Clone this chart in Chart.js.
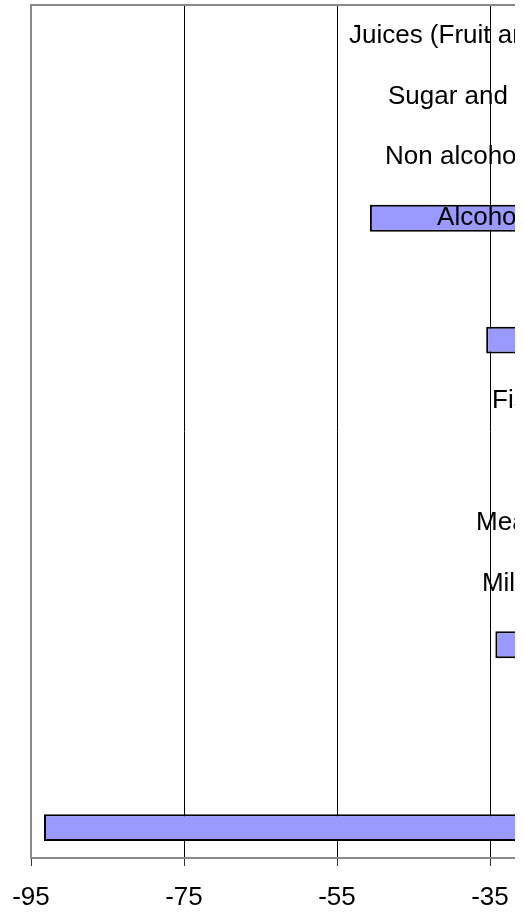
<!DOCTYPE html>
<html>
<head>
<meta charset="utf-8">
<script src="https://cdn.jsdelivr.net/npm/chart.js@4.4.0/dist/chart.umd.min.js"></script>
<style>
  html, body { margin: 0; padding: 0; background: #fff; }
  #wrap { width: 515px; height: 918px; overflow: hidden; }
  #chart { display: block; }
</style>
</head>
<body>
<div id="wrap"><canvas id="chart" width="830" height="929"></canvas></div>
<script>
// categories, top to bottom
const categories = [
  'Juices (Fruit and vegetable)',
  'Sugar and confectionery',
  'Non alcoholic beverages',
  'Alcoholic beverages',
  'Tobacco',
  'Vegetables',
  'Fish & Seafood',
  'Eggs',
  'Meat and poultry',
  'Milk and cheese',
  'Fruit',
  'Oils and fats',
  'Cereals',
  'Potatoes'
];
// change per category (only the four leftmost bars can be read, the rest are guessed)
const changes = [-14, -9, -18, -50.7, -6, -35.5, -21, -12, -17, -24, -34.3, -7, -19, -93.3];
const xMin = -95;
const xMax = 5;
const xStep = 20;
const labelAnchor = -11.5; // category labels are right-aligned at this value

const fontFamily = '"Liberation Sans", Arial, sans-serif';

// grey frame round the plot area
const plotFrame = {
  id: 'plotFrame',
  beforeDatasetsDraw(chart) {
    const { ctx, chartArea: a } = chart;
    ctx.save();
    ctx.strokeStyle = '#8a8a8a';
    ctx.lineWidth = 2;
    ctx.strokeRect(a.left, a.top, a.right - a.left, a.bottom - a.top);
    ctx.restore();
  }
};

// category names drawn inside the plot, over the bars
const categoryLabels = {
  id: 'categoryLabels',
  afterDatasetsDraw(chart) {
    const { ctx } = chart;
    const xScale = chart.scales.x;
    const yScale = chart.scales.y;
    const x = xScale.getPixelForValue(labelAnchor);
    ctx.save();
    ctx.font = '26px ' + fontFamily;
    ctx.fillStyle = '#000';
    ctx.textAlign = 'right';
    ctx.textBaseline = 'middle';
    categories.forEach((name, i) => {
      ctx.fillText(name, x, yScale.getPixelForValue(i));
    });
    ctx.restore();
  }
};

new Chart(document.getElementById('chart'), {
  type: 'bar',
  data: {
    labels: categories,
    datasets: [{
      data: changes,
      backgroundColor: '#9999ff',
      borderColor: '#000',
      borderWidth: 2,
      borderSkipped: false,
      barPercentage: 0.44,
      categoryPercentage: 1
    }]
  },
  options: {
    indexAxis: 'y',
    responsive: false,
    animation: false,
    layout: { padding: { left: 31, top: 5, right: 34, bottom: 0 } },
    plugins: {
      legend: { display: false },
      tooltip: { enabled: false }
    },
    scales: {
      x: {
        min: xMin,
        max: xMax,
        ticks: {
          stepSize: xStep,
          color: '#000',
          padding: 12,
          font: { size: 26, family: fontFamily, lineHeight: 1.5 }
        },
        grid: { color: '#000', lineWidth: 1, tickLength: 8, tickColor: '#333' },
        border: { display: false }
      },
      y: { display: false }
    }
  },
  plugins: [plotFrame, categoryLabels]
});
</script>
</body>
</html>
